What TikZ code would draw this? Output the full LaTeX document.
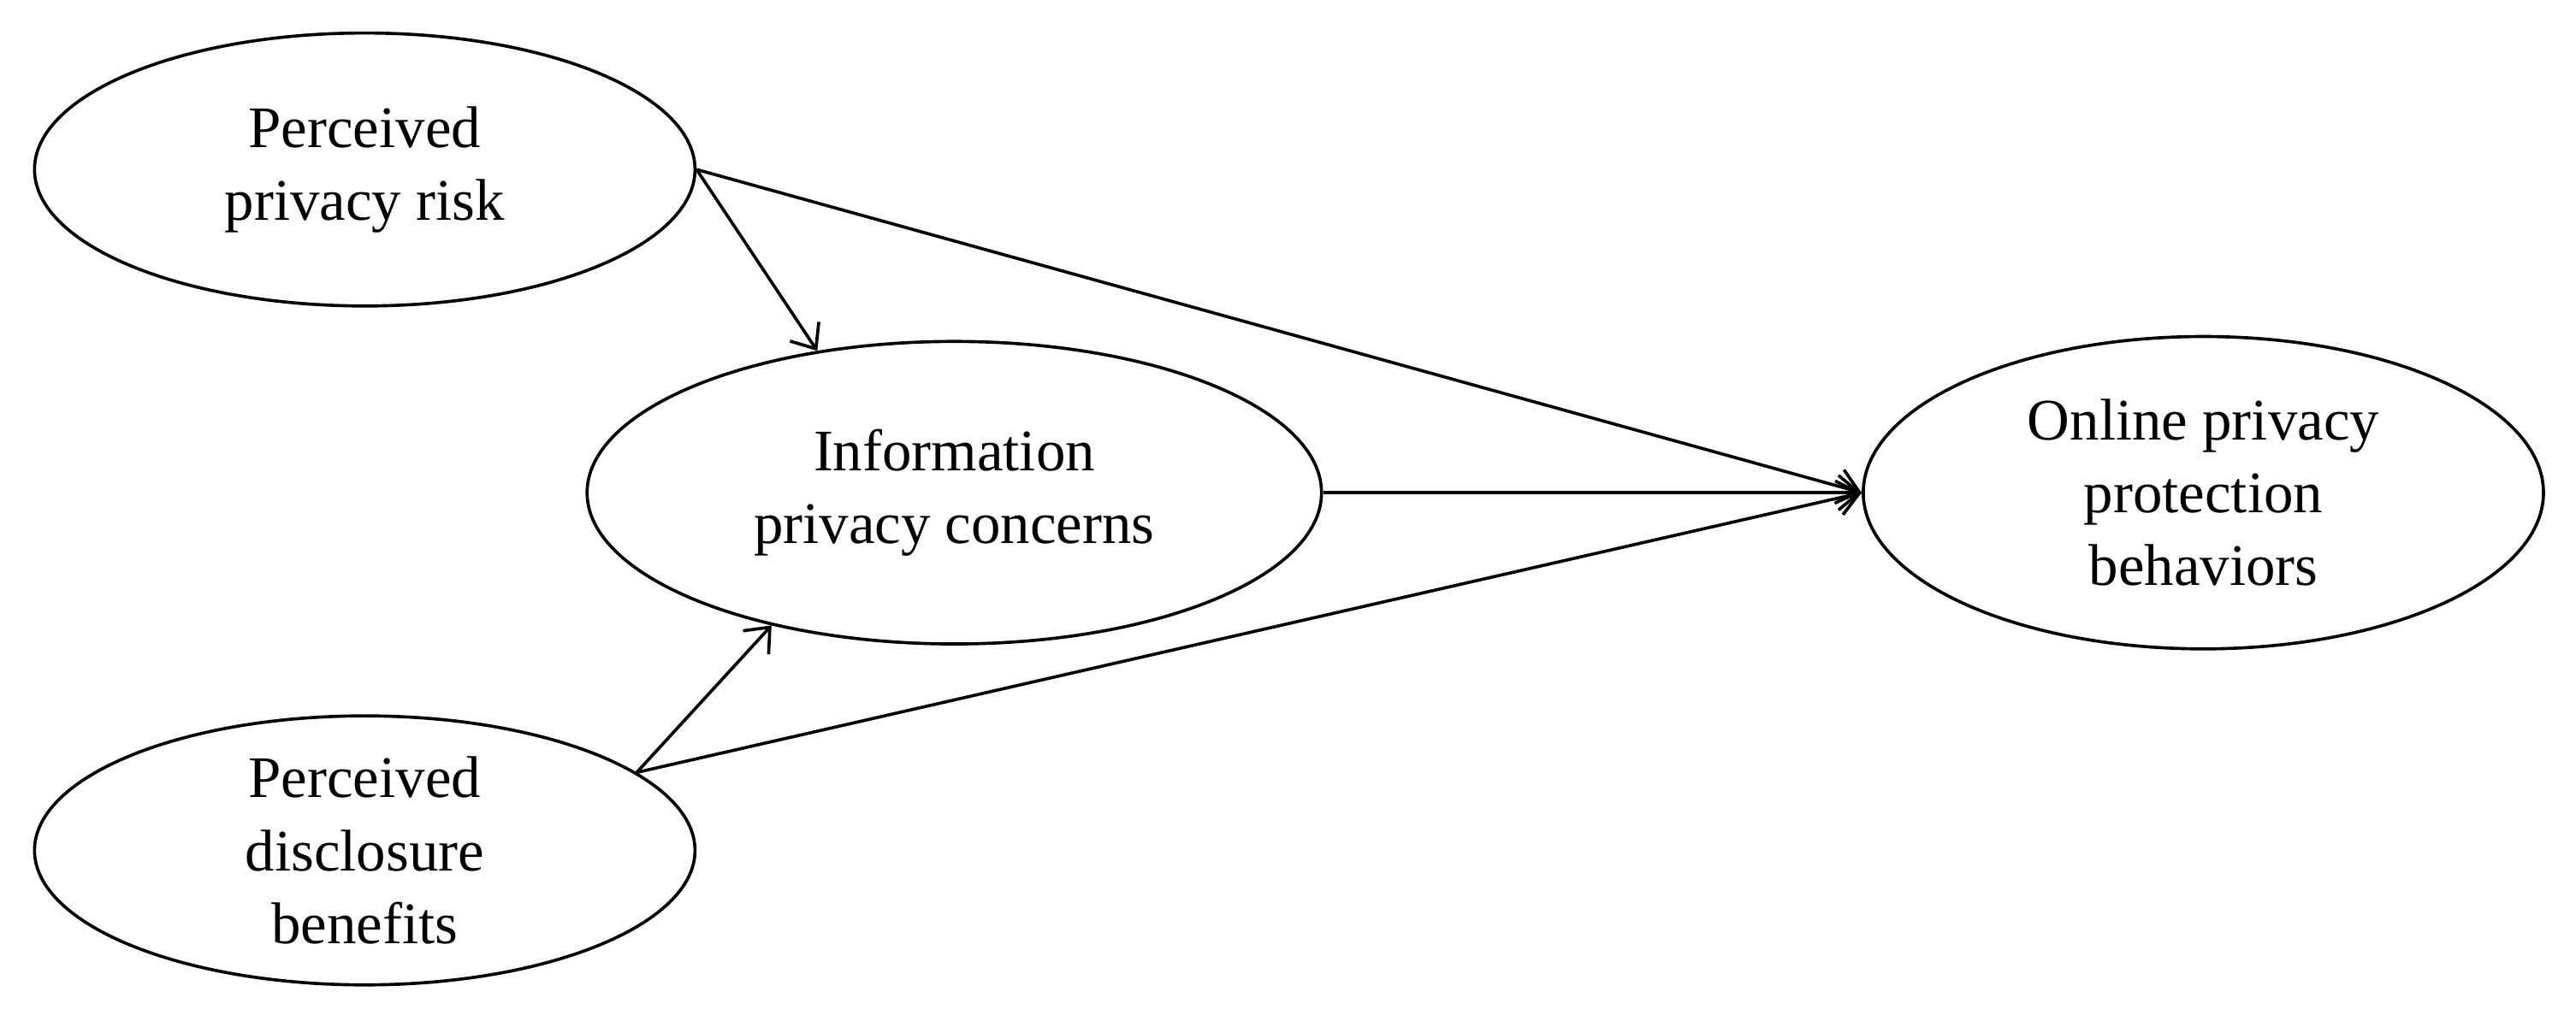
\documentclass[tikz,border=0pt]{standalone}
\usepackage{fontspec}
\setmainfont{Liberation Serif}
\usetikzlibrary{shapes.geometric, arrows.meta}

\begin{document}
\begin{tikzpicture}[
		construct/.style={ellipse, draw, line width=0.9pt, inner sep=0pt, align=center,
			font=\fontsize{17}{21}\selectfont},
		path/.style={-{Straight Barb[length=6pt,width=10pt]}, line width=0.9pt}
	]
		\useasboundingbox (0,0) rectangle (26.13,-10.42);
		% latent constructs
		\node[construct, minimum width=6.7cm, minimum height=2.77cm] (risk) at (3.70,-1.72) {Perceived\\privacy risk};
		\node[construct, minimum width=7.45cm, minimum height=3.07cm] (concern) at (9.68,-5.0) {Information\\privacy concerns};
		\node[construct, minimum width=6.7cm, minimum height=2.73cm] (benefit) at (3.70,-8.63) {Perceived\\disclosure\\benefits};
		\node[construct, minimum width=6.9cm, minimum height=3.17cm] (behavior) at (22.35,-5.0) {Online privacy\\protection\\behaviors};
		
		% hypothesised paths
		\draw[path] (risk.east) -- (concern.134);
		\draw[path] (risk.east) -- (behavior.west);
		\draw[path] (concern.east) -- (behavior.west);
		\draw[path] (benefit.16) -- (concern.216);
		\draw[path] (benefit.16) -- (behavior.west);
\end{tikzpicture}
\end{document}
